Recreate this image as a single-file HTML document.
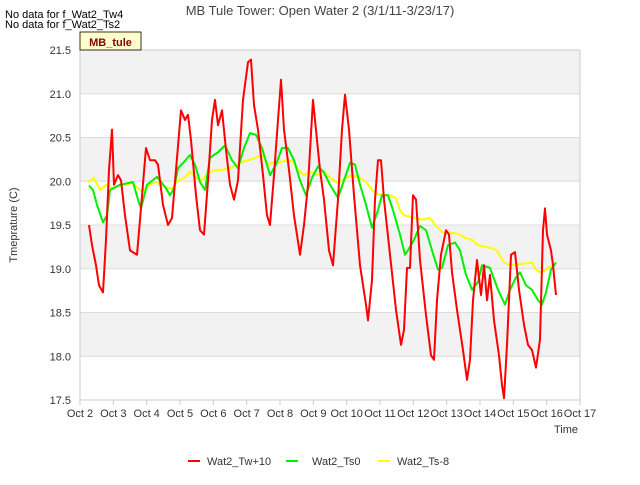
<!DOCTYPE html>
<html><head><meta charset="utf-8"><style>
body{margin:0;background:#fff;font-family:"Liberation Sans",sans-serif}
svg text{font-family:"Liberation Sans",sans-serif}
</style></head><body>
<svg width="640" height="480" xmlns="http://www.w3.org/2000/svg">
<text x="5" y="18" font-size="11" fill="#000">No data for f_Wat2_Tw4</text>
<text x="5" y="28" font-size="11" fill="#000">No data for f_Wat2_Ts2</text>
<text x="320" y="15" font-size="13" fill="#444" text-anchor="middle">MB Tule Tower: Open Water 2 (3/1/11-3/23/17)</text>
<g id="plot"></g>
<rect x="80" y="32" width="61" height="18" fill="#ffffcc" stroke="#000" stroke-width="0.8"/>
<text x="110.5" y="46" font-size="11" font-weight="bold" fill="#8b0000" text-anchor="middle">MB_tule</text>
<text transform="translate(17,225) rotate(-90)" font-size="11" fill="#333" text-anchor="middle">Tmeprature (C)</text>
<text x="578" y="433" font-size="11" fill="#333" text-anchor="end">Time</text>
<g>
<line x1="188" y1="461" x2="200" y2="461" stroke="#ff0000" stroke-width="2"/>
<text x="207" y="465" font-size="11" fill="#333">Wat2_Tw+10</text>
<line x1="286" y1="461" x2="298" y2="461" stroke="#00ee00" stroke-width="2"/>
<text x="312" y="465" font-size="11" fill="#333">Wat2_Ts0</text>
<line x1="378" y1="461" x2="390" y2="461" stroke="#ffff00" stroke-width="2"/>
<text x="397" y="465" font-size="11" fill="#333">Wat2_Ts-8</text>
</g>
</svg>
<script>
const xTickLabels=["Oct 2","Oct 3","Oct 4","Oct 5","Oct 6","Oct 7","Oct 8","Oct 9","Oct 10","Oct 11","Oct 12","Oct 13","Oct 14","Oct 15","Oct 16","Oct 17"];
const yTicks=[17.5,18.0,18.5,19.0,19.5,20.0,20.5,21.0,21.5];
const twDays=[.27,.36,.48,.57,.69,.78,.87,.96,1.02,1.14,1.23,1.35,1.5,1.71,1.8,1.98,2.1,2.25,2.34,2.49,2.64,2.76,2.88,3.03,3.15,3.24,3.33,3.48,3.6,3.72,3.84,3.96,4.05,4.14,4.26,4.38,4.5,4.62,4.74,4.89,5.04,5.13,5.22,5.34,5.49,5.61,5.7,5.82,5.94,6.03,6.12,6.27,6.42,6.6,6.72,6.84,6.99,7.11,7.2,7.32,7.47,7.59,7.74,7.86,7.95,8.07,8.22,8.4,8.58,8.64,8.76,8.85,8.94,9.03,9.12,9.3,9.48,9.63,9.72,9.81,9.9,9.99,10.08,10.2,10.38,10.53,10.62,10.71,10.83,10.98,11.07,11.16,11.31,11.49,11.61,11.7,11.79,11.91,12.03,12.12,12.21,12.3,12.42,12.57,12.66,12.72,12.81,12.93,13.05,13.17,13.32,13.44,13.56,13.68,13.8,13.89,13.95,14.01,14.13,14.19,14.28];
const twVals=[19.5,19.27,19.04,18.81,18.73,19.33,20.13,20.59,19.96,20.07,20.01,19.61,19.21,19.16,19.56,20.38,20.24,20.24,20.19,19.73,19.5,19.58,20.13,20.81,20.7,20.76,20.47,19.84,19.44,19.39,20.01,20.7,20.93,20.64,20.81,20.36,19.96,19.79,20.01,20.93,21.36,21.39,20.87,20.59,20.07,19.61,19.5,20.07,20.7,21.16,20.59,20.13,19.61,19.16,19.5,19.96,20.93,20.47,20.13,19.79,19.21,19.04,19.79,20.59,20.99,20.59,19.84,19.04,18.59,18.41,18.87,19.79,20.24,20.24,19.79,19.16,18.53,18.13,18.3,19.01,19.01,19.84,19.79,19.1,18.47,18.01,17.96,18.64,19.16,19.44,19.39,18.96,18.53,18.07,17.73,17.96,18.64,19.1,18.7,19.04,18.64,18.93,18.41,18.01,17.67,17.52,18.13,19.16,19.19,18.76,18.36,18.13,18.07,17.87,18.19,19.44,19.69,19.39,19.21,19.04,18.7];
const ts0Days=[.27,.39,.51,.69,.81,.9,1.2,1.59,1.74,1.83,2.01,2.31,2.58,2.7,2.82,2.94,3.12,3.3,3.45,3.6,3.75,3.9,4.14,4.35,4.56,4.74,4.92,5.1,5.28,5.46,5.7,5.88,6.06,6.24,6.42,6.6,6.78,6.96,7.14,7.32,7.5,7.74,7.92,8.1,8.25,8.4,8.58,8.76,8.94,9.06,9.24,9.39,9.6,9.75,9.84,10.02,10.2,10.38,10.56,10.74,10.86,11.04,11.25,11.4,11.58,11.76,11.94,12.06,12.3,12.54,12.75,12.9,13.08,13.2,13.38,13.56,13.74,13.86,13.98,14.13,14.28];
const ts0Vals=[19.95,19.9,19.73,19.53,19.61,19.9,19.96,19.99,19.79,19.69,19.96,20.05,19.92,19.84,19.92,20.15,20.22,20.3,20.19,19.99,19.9,20.27,20.33,20.41,20.24,20.15,20.38,20.55,20.53,20.38,20.07,20.19,20.38,20.38,20.24,20.01,19.84,20.04,20.17,20.1,19.96,19.81,20.01,20.21,20.19,19.96,19.73,19.47,19.67,19.84,19.84,19.67,19.39,19.16,19.21,19.33,19.49,19.44,19.21,18.99,19.01,19.27,19.3,19.21,18.93,18.76,18.85,19.04,19.01,18.76,18.59,18.76,18.9,18.96,18.81,18.76,18.64,18.59,18.73,18.99,19.07];
const ts8Days=[.24,.42,.6,.78,.96,1.35,1.56,1.86,2.1,2.28,2.64,2.76,2.94,3.15,3.3,3.48,3.66,3.84,4.05,4.26,4.5,4.68,4.86,5.04,5.28,5.46,5.64,5.82,6,6.24,6.42,6.54,6.72,6.9,7.14,7.32,7.5,7.74,7.98,8.16,8.4,8.58,8.76,8.94,9.3,9.48,9.6,9.72,10.08,10.26,10.5,10.68,10.86,11.34,11.58,11.76,11.94,12.3,12.51,12.72,12.9,13.56,13.68,13.8,13.98,14.28];
const ts8Vals=[19.99,20.04,19.9,19.96,19.92,19.96,19.98,19.88,19.96,19.99,19.92,19.92,20.01,20.04,20.11,20.04,20.01,20.09,20.13,20.13,20.15,20.19,20.22,20.24,20.27,20.3,20.19,20.22,20.22,20.24,20.22,20.13,20.07,20.11,20.07,20.11,20.04,19.98,20.04,20.07,20.04,19.99,19.9,19.85,19.84,19.81,19.67,19.61,19.58,19.56,19.58,19.49,19.42,19.4,19.35,19.33,19.27,19.24,19.21,19.07,19.04,19.07,18.99,18.96,18.99,19.07];
const X0=80,X1=580,Y0=400,Y1=50;
const xs=d=>X0+d*(X1-X0)/15;
const ys=v=>Y0-(v-17.5)*(Y0-Y1)/4;
const NS="http://www.w3.org/2000/svg";
const g=document.getElementById('plot');
function mk(t,a){const e=document.createElementNS(NS,t);for(const k in a)e.setAttribute(k,a[k]);g.appendChild(e);return e;}
for(let i=0;i<yTicks.length-1;i++){
 const b=mk('rect',{x:X0,y:ys(yTicks[i+1]),width:X1-X0,height:ys(yTicks[i])-ys(yTicks[i+1]),fill:(i%2==0)?'#ffffff':'#f2f2f2'});
 
 
}
yTicks.forEach(v=>{
 const l=mk('line',{x1:X0,x2:X1,y1:ys(v),y2:ys(v),stroke:'#dcdcdc','stroke-width':1});
 
 
 const t=mk('text',{x:X0-9,y:ys(v)+4,'font-size':11,fill:'#333','text-anchor':'end'});
 t.textContent=v.toFixed(1);
 
 
});
xTickLabels.forEach((s,i)=>{
 const tk=mk('line',{x1:xs(i),x2:xs(i),y1:Y0,y2:Y0+5,stroke:'#ccc'});
 
 
 const t=mk('text',{x:xs(i),y:Y0+17,'font-size':11,fill:'#333','text-anchor':'middle'});
 t.textContent=s;
 
 
});
const fr=mk('rect',{x:X0,y:Y1,width:X1-X0,height:Y0-Y1,fill:'none',stroke:'#ccc'});


function line(ds,vs,c,n){
 const p=mk('polyline',{points:ds.map((d,i)=>xs(d)+','+ys(vs[i])).join(' '),fill:'none',stroke:c,'stroke-width':2,'stroke-linejoin':'round'});
 
 
}
line(ts8Days,ts8Vals,'#ffff00','series-ts8-line');
line(ts0Days,ts0Vals,'#00ee00','series-ts0-line');
line(twDays,twVals,'#ff0000','series-tw-line');
</script>
</body></html>
